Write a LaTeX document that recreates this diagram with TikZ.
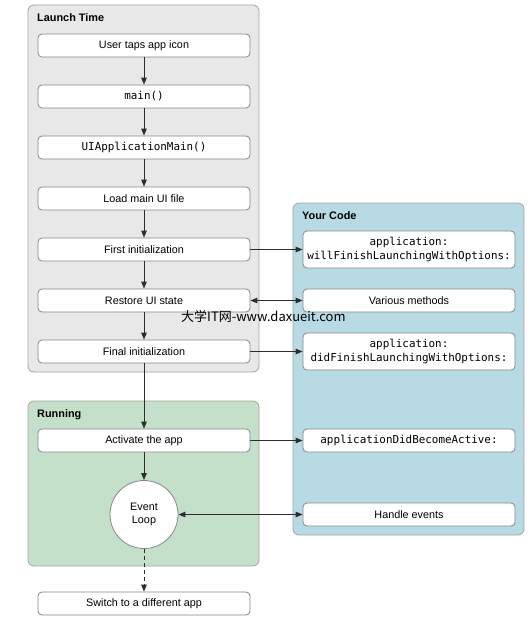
\documentclass[tikz,border=0pt]{standalone}
\usepackage{fontspec}
\setmainfont{Liberation Sans}
\setmonofont{DejaVu Sans Mono}
\newfontfamily\cjk{Noto Sans CJK SC}
\usetikzlibrary{arrows.meta}
\definecolor{panelgray}{RGB}{232,232,232}
\definecolor{panelgreen}{RGB}{197,224,202}
\definecolor{panelblue}{RGB}{184,218,228}
\definecolor{panelline}{RGB}{165,165,165}
\definecolor{boxline}{RGB}{135,135,135}
\definecolor{arrline}{RGB}{45,45,45}
\begin{document}
\begin{tikzpicture}[x=1pt,y=-1pt,
  panel/.style={draw=panelline, rounded corners=6pt, line width=0.8pt},
  box/.style={draw=boxline, fill=white, rounded corners=4pt, minimum width=212pt, minimum height=23pt, inner sep=0pt, line width=0.8pt, font=\fontsize{10.8}{13}\selectfont},
  tallbox/.style={box, minimum height=37pt, align=center, font=\ttfamily\fontsize{10.9}{13.5}\selectfont},
  codebox/.style={box, font=\ttfamily\fontsize{10.9}{13}\selectfont},
  title/.style={anchor=west, inner sep=0pt, font=\bfseries\fontsize{10.9}{12}\selectfont},
  arr/.style={-{Triangle[length=7pt,width=5.5pt]}, line width=1pt, draw=arrline},
  darr/.style={{Triangle[length=7pt,width=5.5pt]}-{Triangle[length=7pt,width=5.5pt]}, line width=1pt, draw=arrline},
]
\useasboundingbox (0,0) rectangle (532,631);
\fill[white] (0,0) rectangle (532,631);
% panels
\draw[panel, fill=panelgray] (28,5) rectangle (259,372);
\draw[panel, fill=panelgreen] (28,401) rectangle (259,566);
\draw[panel, fill=panelblue] (293,203) rectangle (524,535);
\node[title] (tlaunch) at (37,18) {Launch Time};
\node[title] (trun) at (37,415) {Running};
\node[title] (tcode) at (302,216) {Your Code};
% left column
\node[box] (user) at (144,45.5) {User taps app icon};
\node[codebox] (main) at (144,96.5) {main()};
\node[codebox] (uiam) at (144,147.5) {UIApplicationMain()};
\node[box] (load) at (144,198.5) {Load main UI file};
\node[box] (first) at (144,249.5) {First initialization};
\node[box] (restore) at (144,300.5) {Restore UI state};
\node[box] (final) at (144,351.5) {Final initialization};
\node[box] (activate) at (144,440.5) {Activate the app};
\node[circle, draw=boxline, fill=white, line width=0.8pt, minimum size=68pt, inner sep=0pt, align=center, font=\fontsize{10.8}{13.5}\selectfont] (loop) at (144,514.5) {Event\\Loop};
\node[box] (switch) at (144,603.5) {Switch to a different app};
% right column
\node[tallbox] (will) at (409,249.5) {application:\\willFinishLaunchingWithOptions:};
\node[box] (various) at (409,300.5) {Various methods};
\node[tallbox] (did) at (409,351.5) {application:\\didFinishLaunchingWithOptions:};
\node[codebox] (active) at (409,440.5) {applicationDidBecomeActive:};
\node[box] (handle) at (409,514.5) {Handle events};
% vertical arrows
\draw[arr] (user) -- (main);
\draw[arr] (main) -- (uiam);
\draw[arr] (uiam) -- (load);
\draw[arr] (load) -- (first);
\draw[arr] (first) -- (restore);
\draw[arr] (restore) -- (final);
\draw[arr] (final) -- (activate);
\draw[arr] (activate) -- (loop);
\draw[arr, dashed, dash pattern=on 4pt off 3pt] (loop) -- (switch);
% horizontal arrows
\draw[arr] (first) -- (will);
\draw[darr] (restore) -- (various);
\draw[arr] (final) -- (did);
\draw[arr] (activate) -- (active);
\draw[darr] (loop) -- (handle);
% watermark
\node[anchor=west, inner sep=0pt, font=\cjk\fontsize{13}{15}\selectfont] (wm) at (181,316) {大学IT网-www.daxueit.com};
\end{tikzpicture}
\end{document}
